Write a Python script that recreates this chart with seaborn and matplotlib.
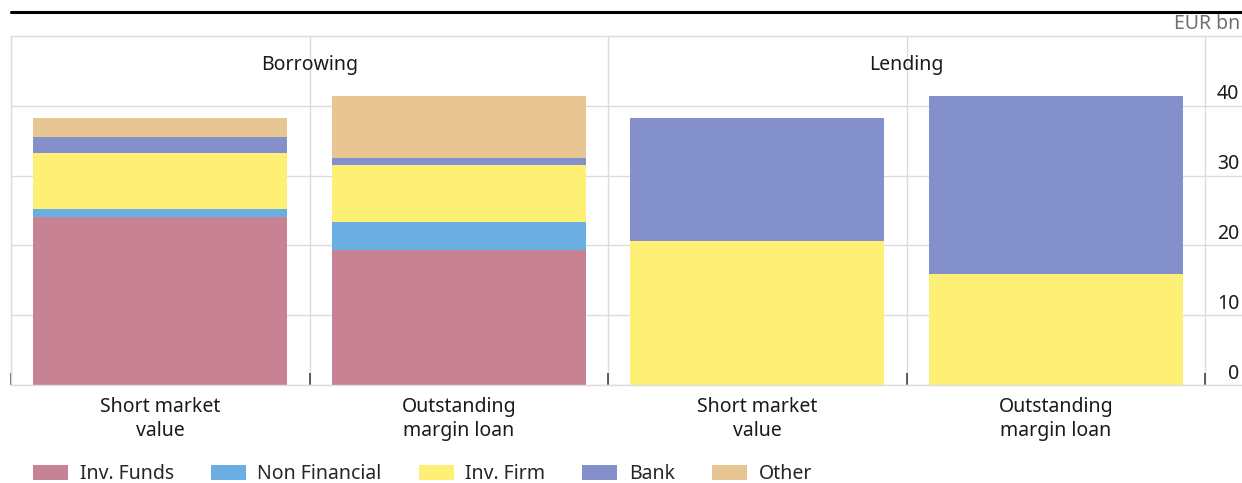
import numpy as np
import pandas as pd
import matplotlib
matplotlib.use("Agg")
import matplotlib.pyplot as plt
import seaborn as sns
from matplotlib.lines import Line2D
from matplotlib.patches import Patch
import matplotlib.transforms as mtransforms

# ---------------- data ----------------
bar_keys = ["B_short", "B_margin", "L_short", "L_margin"]
categories = ["Short market\nvalue", "Outstanding\nmargin loan",
              "Short market\nvalue", "Outstanding\nmargin loan"]
groups = ["Borrowing", "Lending"]
series = ["Inv. Funds", "Non Financial", "Inv. Firm", "Bank", "Other"]
inv_funds = [24.1, 19.4, 0.0, 0.0]
non_financial = [1.1, 3.9, 0.0, 0.0]
inv_firm = [8.1, 8.2, 20.6, 15.9]
bank = [2.3, 1.0, 17.6, 25.5]
other = [2.6, 8.9, 0.0, 0.0]
y_ticks = [0, 10, 20, 30, 40]
unit_label = "EUR bn"

colors = ["#C78394", "#6AAEE3", "#FEF075", "#8490CB", "#E7C693"]

values = [inv_funds, non_financial, inv_firm, bank, other]
rows = []
for s, vals in zip(series, values):
    for k, v in zip(bar_keys, vals):
        rows.append({"series": s, "key": k, "value": v})
df = pd.DataFrame(rows)
df["cum"] = df.groupby("key")["value"].cumsum()

# ---------------- figure ----------------
sns.set_theme(style="white")
plt.rcParams["font.family"] = ["Noto Sans", "DejaVu Sans"]

W, H = 1242, 483
fig = plt.figure(figsize=(W / 100, H / 100), dpi=100)
ax_left, ax_right, ax_top, ax_bottom = 11, 1242, 36, 385
ax = fig.add_axes([ax_left / W, 1 - ax_bottom / H,
                   (ax_right - ax_left) / W, (ax_bottom - ax_top) / H])

for s, c in reversed(list(zip(series, colors))):
    sub = df[df["series"] == s]
    sns.barplot(data=sub, x="key", y="cum", order=bar_keys, color=c,
                saturation=1, width=0.85, ax=ax, errorbar=None,
                linewidth=0, zorder=2)

cat_px = (1205 - 11) / 4.0
ax.set_xlim(-0.5, -0.5 + (ax_right - ax_left) / cat_px)
ax.set_ylim(0, 50)

# x axis
ax.set_xticks(range(len(bar_keys)))
ax.set_xticklabels(categories, fontsize=14, color="#1a1a1a", linespacing=1.25)
ax.set_xticks([-0.5, 0.5, 1.5, 2.5, 3.5], minor=True)
ax.tick_params(axis="x", which="major", length=0, pad=8.5)
ax.tick_params(axis="x", which="minor", direction="in", length=9,
               width=1.2, color="#444444", bottom=True)
ax.set_xlabel("")
ax.set_ylabel("")

# y axis (labels inside on the right, above gridlines)
ax.yaxis.tick_right()
ax.set_yticks(y_ticks)
ax.set_yticklabels([str(t) for t in y_ticks], fontsize=14, color="#1a1a1a")
ax.tick_params(axis="y", length=0, pad=-2)
offset = mtransforms.ScaledTranslation(0, 1 / 72, fig.dpi_scale_trans)
for lab in ax.get_yticklabels():
    lab.set_horizontalalignment("right")
    lab.set_verticalalignment("bottom")
    lab.set_transform(lab.get_transform() + offset)

# grid
ax.grid(False)
ax.yaxis.grid(True, which="major", color="#DCDCDC", linewidth=1, zorder=0)
ax.xaxis.grid(True, which="minor", color="#DCDCDC", linewidth=1, zorder=0)
ax.set_axisbelow(True)
for side in ["top", "left", "bottom"]:
    ax.spines[side].set_color("#DCDCDC")
    ax.spines[side].set_linewidth(1)
ax.spines["right"].set_visible(False)

# group headers
for i, g in enumerate(groups):
    ax.text(0.5 + 2 * i, 45.8, g, ha="center", va="center",
            fontsize=14, color="#1a1a1a")

# unit label and top rule
fig.text(1240 / W, 1 - 24 / H, unit_label, ha="right", va="center",
         fontsize=14, color="#707070")
fig.add_artist(Line2D([11 / W, 1.0], [1 - 12 / H, 1 - 12 / H],
                      color="black", linewidth=2.2))

# legend
handles = [Patch(facecolor=c, edgecolor="none", label=s)
           for s, c in zip(series, colors)]
fig.legend(handles=handles, loc="center left", ncol=5, frameon=False,
           bbox_to_anchor=(33 / W, 1 - 474 / H), fontsize=14,
           handlelength=1.8, handleheight=0.8, handletextpad=0.6,
           columnspacing=1.9, borderaxespad=0, borderpad=0)

fig.savefig("out.png", dpi=100)
